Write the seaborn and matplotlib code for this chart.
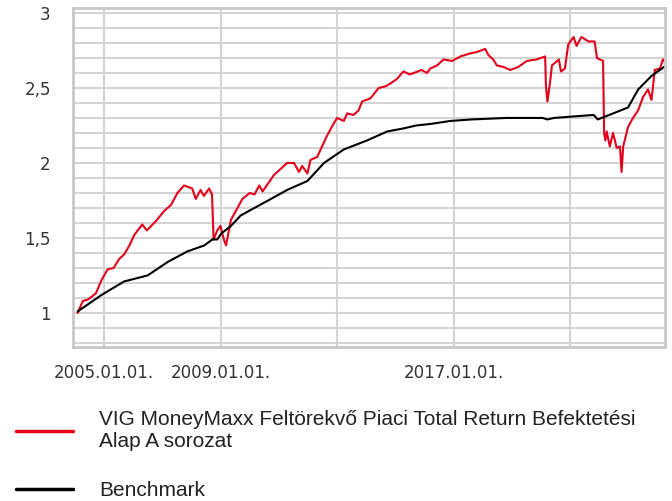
import matplotlib
matplotlib.use("Agg")
import matplotlib.pyplot as plt
import numpy as np
import pandas as pd
import seaborn as sns

# fund series
fund_dates = [
    "2004-02-05", "2004-04-10", "2004-06-15", "2004-09-20", "2004-12-01", "2005-02-15",
    "2005-05-01", "2005-07-10", "2005-09-10", "2005-11-15", "2006-01-15", "2006-04-25",
    "2006-06-20", "2006-10-10", "2007-01-25", "2007-04-20", "2007-07-10", "2007-10-01",
    "2008-01-10", "2008-02-25", "2008-04-25", "2008-06-05", "2008-08-10", "2008-09-15",
    "2008-10-05", "2008-11-20", "2008-12-30", "2009-02-10", "2009-03-10", "2009-05-10",
    "2009-10-01", "2010-01-01", "2010-03-01", "2010-05-01", "2010-06-10", "2010-11-01",
    "2011-04-15", "2011-07-10", "2011-09-10", "2011-10-20", "2011-12-25", "2012-02-01",
    "2012-04-25", "2012-06-25", "2012-08-25", "2012-10-25", "2012-12-30", "2013-03-25",
    "2013-05-05", "2013-07-25", "2013-09-25", "2013-11-10", "2014-02-20", "2014-06-05",
    "2014-08-25", "2014-10-30", "2015-01-20", "2015-04-10", "2015-07-01", "2015-11-25",
    "2016-01-30", "2016-03-15", "2016-06-05", "2016-08-25", "2016-12-10", "2017-03-25",
    "2017-07-25", "2017-10-20", "2018-01-30", "2018-03-10", "2018-05-10", "2018-06-25",
    "2018-09-15", "2018-12-10", "2019-03-20", "2019-07-05", "2019-11-05", "2020-02-20",
    "2020-03-01", "2020-03-20", "2020-04-20", "2020-05-15", "2020-08-10", "2020-09-05",
    "2020-10-25", "2020-12-05", "2021-02-10", "2021-03-20", "2021-05-20", "2021-08-15",
    "2021-11-01", "2021-11-30", "2022-02-15", "2022-02-28", "2022-03-15", "2022-04-01",
    "2022-05-10", "2022-06-20", "2022-08-05", "2022-09-15", "2022-10-05", "2022-10-25",
    "2022-12-25", "2023-02-25", "2023-04-30", "2023-07-01", "2023-09-01", "2023-10-15",
    "2023-11-25", "2024-01-30", "2024-03-05", "2024-03-20",
]
fund_values = [
    1.00, 1.08, 1.09, 1.13, 1.22, 1.29,
    1.30, 1.36, 1.39, 1.45, 1.52, 1.59,
    1.55, 1.61, 1.68, 1.72, 1.80, 1.85,
    1.83, 1.76, 1.82, 1.78, 1.83, 1.79,
    1.49, 1.55, 1.58, 1.49, 1.45, 1.62,
    1.76, 1.80, 1.79, 1.85, 1.81, 1.92,
    2.00, 2.00, 1.94, 1.98, 1.93, 2.02,
    2.04, 2.11, 2.18, 2.24, 2.30, 2.28,
    2.33, 2.32, 2.35, 2.41, 2.43, 2.50,
    2.51, 2.53, 2.56, 2.61, 2.59, 2.62,
    2.60, 2.63, 2.65, 2.69, 2.68, 2.71,
    2.73, 2.74, 2.76, 2.72, 2.69, 2.65,
    2.64, 2.62, 2.64, 2.68, 2.69, 2.71,
    2.51, 2.41, 2.53, 2.65, 2.69, 2.61,
    2.63, 2.79, 2.84, 2.78, 2.84, 2.81,
    2.81, 2.70, 2.68, 2.20, 2.15, 2.21,
    2.11, 2.20, 2.10, 2.11, 1.94, 2.11,
    2.24, 2.30, 2.35, 2.44, 2.49, 2.42,
    2.62, 2.63, 2.69, 2.68,
]

# benchmark series
bench_dates = [
    "2004-02-05", "2004-12-01", "2005-09-10", "2006-07-01", "2007-03-10", "2007-11-10",
    "2008-06-10", "2008-09-20", "2008-11-20", "2009-01-10", "2009-05-10", "2009-09-10",
    "2010-08-20", "2011-04-15", "2011-12-25", "2012-07-20", "2013-03-25", "2014-01-10",
    "2014-09-20", "2015-04-10", "2015-09-20", "2016-03-15", "2016-11-20", "2017-08-10",
    "2018-10-20", "2020-01-20", "2020-03-20", "2020-06-10", "2021-02-10", "2021-10-20",
    "2021-12-10", "2022-06-20", "2022-12-25", "2023-05-01", "2023-10-15", "2024-03-20",
]
bench_values = [
    1.01, 1.12, 1.21, 1.25, 1.34, 1.41,
    1.45, 1.49, 1.49, 1.53, 1.58, 1.65,
    1.75, 1.82, 1.88, 2.00, 2.09, 2.15,
    2.21, 2.23, 2.25, 2.26, 2.28, 2.29,
    2.30, 2.30, 2.29, 2.30, 2.31, 2.32,
    2.29, 2.33, 2.37, 2.49, 2.58, 2.64,
]

series_names = ["VIG MoneyMaxx Feltörekvő Piaci Total Return Befektetési\nAlap A sorozat",
                "Benchmark"]
series_colors = ["#e2001a", "#000000"]

y_ticks = [1, 1.5, 2, 2.5, 3]
y_tick_labels = ["1", "1,5", "2", "2,5", "3"]
x_ticks = ["2005-01-01", "2009-01-01", "2013-01-01", "2017-01-01", "2021-01-01"]
x_tick_labels = ["2005.01.01.", "2009.01.01.", "", "2017.01.01.", ""]

df = pd.concat([
    pd.DataFrame({"date": pd.to_datetime(fund_dates), "value": fund_values, "series": series_names[0]}),
    pd.DataFrame({"date": pd.to_datetime(bench_dates), "value": bench_values, "series": series_names[1]}),
])

sns.set_style("white")
plt.rcParams["font.family"] = ["DejaVu Sans"]

grid_col = "#d4d4d4"
fig = plt.figure(figsize=(6.72, 5.01), dpi=100)
ax = fig.add_axes([73 / 672, 1 - 347 / 501, 592 / 672, 339 / 501])

sns.lineplot(data=df, x="date", y="value", hue="series", palette=series_colors,
             linewidth=1.5, ax=ax, legend=False, estimator=None, sort=False)

ax.set_xlim(pd.Timestamp("2003-12-09"), pd.Timestamp("2024-04-01"))
ax.set_ylim(0.773, 3.033)

ax.set_yticks(y_ticks)
ax.set_yticklabels(y_tick_labels)
ax.set_yticks(np.arange(0.8, 3.01, 0.1), minor=True)
ax.set_xticks(pd.to_datetime(x_ticks))
ax.set_xticklabels(x_tick_labels)

ax.grid(True, which="both", axis="y", color=grid_col, linewidth=1.5)
ax.grid(True, which="major", axis="x", color=grid_col, linewidth=1.5)
ax.set_axisbelow(True)

for s in ax.spines.values():
    s.set_color("#c8c8c8")
    s.set_linewidth(2)

ax.tick_params(axis="y", which="major", length=7, width=1.5, color=grid_col,
               labelsize=12, labelcolor="#333333", pad=9)
ax.tick_params(axis="y", which="minor", length=2, width=1.5, color=grid_col)
ax.tick_params(axis="x", which="major", length=8, width=1.5, color=grid_col,
               labelsize=12, labelcolor="#333333", pad=4)
ax.set_xlabel("")
ax.set_ylabel("")

handles = [plt.Line2D([], [], color=c, linewidth=2.5) for c in series_colors]
fig.legend(handles, series_names, loc="upper left", bbox_to_anchor=(16 / 672, 1 - 410 / 501),
           frameon=False, borderpad=0, borderaxespad=0, handlelength=2.75, handletextpad=1.25,
           labelspacing=1.45, prop={"family": "Liberation Sans", "size": 15})
for t in fig.legends[0].get_texts():
    t.set_color("#222222")

fig.savefig("out.png", dpi=100)
